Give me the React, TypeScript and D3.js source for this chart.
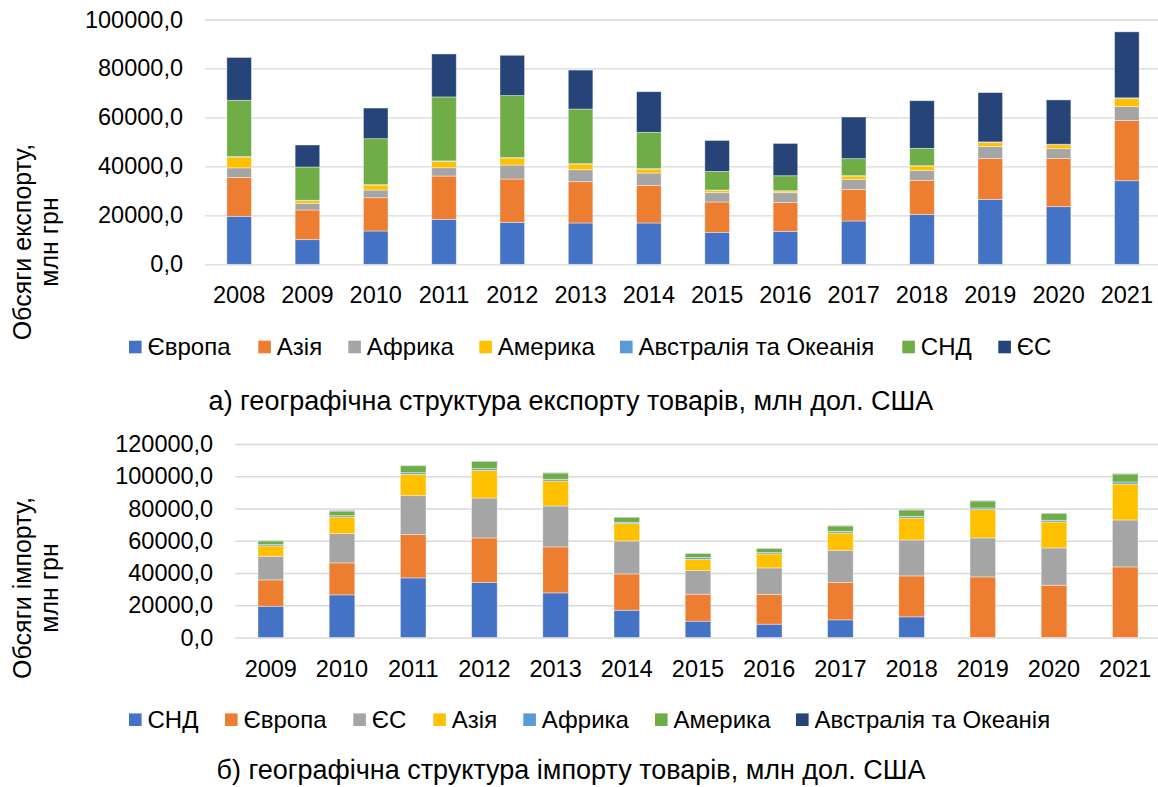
import React, { useEffect, useRef } from 'react';
import * as d3 from 'd3';

// ---- export chart data (2008-2021) ----
const exportYears = ['2008', '2009', '2010', '2011', '2012', '2013', '2014', '2015', '2016', '2017', '2018', '2019', '2020', '2021'];
const exportSeriesNames = ['Європа', 'Азія', 'Африка', 'Америка', 'Австралія та Океанія', 'СНД', 'ЄС'];
const exportEurope = [19600, 10070, 13610, 18370, 17140, 16870, 16870, 13060, 13470, 17690, 20410, 26530, 23540, 34150];
const exportAsia = [15900, 12110, 13600, 17690, 17690, 16880, 15380, 12390, 11840, 12930, 13880, 16740, 19730, 24630];
const exportAfrica = [3900, 2720, 3130, 3400, 5720, 4890, 5030, 3810, 3950, 4080, 4080, 4900, 3950, 5720];
const exportAmerica = [4400, 1090, 2040, 2590, 2860, 2320, 1640, 950, 680, 1360, 1770, 1630, 1630, 3260];
const exportAustralia = [200, 150, 150, 200, 200, 150, 150, 120, 120, 150, 150, 200, 200, 250];
const exportCIS = [23000, 13610, 18780, 26120, 25310, 22310, 14830, 7620, 6120, 6940, 7080, 0, 0, 0];
const exportEU = [17500, 8980, 12520, 17550, 16460, 15920, 16600, 12650, 13200, 17010, 19450, 20140, 18100, 26950];
const exportTicks = [0, 20000, 40000, 60000, 80000, 100000];

// ---- import chart data (2009-2021) ----
const importYears = ['2009', '2010', '2011', '2012', '2013', '2014', '2015', '2016', '2017', '2018', '2019', '2020', '2021'];
const importSeriesNames = ['СНД', 'Європа', 'ЄС', 'Азія', 'Африка', 'Америка', 'Австралія та Океанія'];
const importCIS = [19410, 26430, 36960, 34070, 27670, 16930, 10120, 8260, 10940, 12800, 0, 0, 0];
const importEurope = [16310, 19830, 26850, 27670, 28500, 22510, 16730, 18380, 23130, 25400, 37580, 32420, 43780];
const importEU = [14670, 18170, 24160, 24780, 25400, 20450, 14660, 16520, 20030, 22300, 24160, 23130, 29110];
const importAsia = [6400, 10320, 13220, 17140, 15490, 10730, 7020, 8670, 10740, 13630, 17560, 16110, 22310];
const importAfrica = [830, 830, 1030, 1040, 1030, 830, 1030, 830, 1030, 1040, 1030, 1030, 1230];
const importAmerica = [2280, 2680, 4330, 4540, 3920, 3100, 2480, 2480, 3310, 3920, 4340, 4330, 4960];
const importAustralia = [200, 400, 150, 150, 150, 150, 150, 150, 150, 150, 150, 100, 150];
const importTicks = [0, 20000, 40000, 60000, 80000, 100000, 120000];

const palette = ['#4472C4', '#ED7D31', '#A5A5A5', '#FFC000', '#5B9BD5', '#70AD47', '#264478'];
const FONT = '"Liberation Sans", Arial, sans-serif';

const fmt = (v: number) => d3.format('.1f')(v).replace('.', ',');

type ChartProps = {
  years: string[];
  names: string[];
  values: number[][];
  ticks: number[];
  x0: number; x1: number; y0: number; y1: number;
  legendX: number[]; legendY: number;
  caption: string; captionY: number;
  titleLines: string[]; titleY: number;
};

function StackedChart(p: ChartProps) {
  const yAxisRef = useRef<SVGGElement>(null);
  const xAxisRef = useRef<SVGGElement>(null);

  const x = d3.scaleBand().domain(p.years).range([p.x0, p.x1]).paddingInner(0.64).paddingOuter(0.32);
  const y = d3.scaleLinear().domain([0, p.ticks[p.ticks.length - 1]]).range([p.y0, p.y1]);

  const rows = p.years.map((yr, i) => {
    const row: any = { year: yr };
    p.names.forEach((n, k) => { row[n] = p.values[k][i]; });
    return row;
  });
  const stack = d3.stack().keys(p.names)(rows);

  useEffect(() => {
    const yAxis = d3.axisLeft(y).tickValues(p.ticks).tickSize(-(p.x1 - p.x0)).tickPadding(22).tickFormat((d: any) => fmt(d));
    const yg = d3.select(yAxisRef.current);
    yg.call(yAxis as any);
    yg.select('.domain').remove();
    yg.selectAll('line').attr('stroke', '#d9d9d9').attr('stroke-width', 1.3);
    yg.selectAll('text').attr('font-size', 23.5).attr('font-family', FONT).attr('fill', '#000');

    const xAxis = d3.axisBottom(x).tickSize(0).tickPadding(22.5);
    const xg = d3.select(xAxisRef.current);
    xg.call(xAxis as any);
    xg.select('.domain').remove();
    xg.selectAll('text').attr('font-size', 23.5).attr('font-family', FONT).attr('fill', '#000');
  });

  return (
    <g>
      <g ref={yAxisRef} transform={`translate(${p.x0},0)`} />
      {stack.map((s, k) => (
        <g key={p.names[k]} fill={palette[k]}>
          {s.map((d: any, i: number) => (
            <rect key={i} x={x(p.years[i])} width={x.bandwidth()} y={y(d[1])} height={Math.max(0, y(d[0]) - y(d[1]))}
              stroke="#ffffff" strokeOpacity={0.5} strokeWidth={0.8} />
          ))}
        </g>
      ))}
      <g ref={xAxisRef} transform={`translate(0,${p.y0})`} />
      <g fontFamily={FONT} fontSize={25} fill="#000">
        {p.titleLines.map((t, i) => (
          <text key={i} transform={`translate(${31 + i * 27},${p.titleY}) rotate(-90)`} textAnchor="middle">{t}</text>
        ))}
      </g>
      <g fontFamily={FONT} fontSize={24} fill="#000">
        {p.names.map((n, k) => (
          <g key={n} transform={`translate(${p.legendX[k]},${p.legendY})`}>
            <rect x={0} y={-6.3} width={12.6} height={12.6} fill={palette[k]} />
            <text x={18.5} y={0} dy="0.35em">{n}</text>
          </g>
        ))}
      </g>
      <text x={571} y={p.captionY} dy="0.35em" textAnchor="middle" fontFamily={FONT} fontSize={27} fill="#000">{p.caption}</text>
    </g>
  );
}

export default function App() {
  return (
    <svg width={1158} height={787} style={{ position: 'absolute', left: 0, top: 0, background: '#fff' }}>
      <StackedChart
        years={exportYears}
        names={exportSeriesNames}
        values={[exportEurope, exportAsia, exportAfrica, exportAmerica, exportAustralia, exportCIS, exportEU]}
        ticks={exportTicks}
        x0={205} x1={1161} y0={264.3} y1={19.5}
        legendX={[129, 258.3, 348.3, 479.3, 620, 902.3, 998.3]} legendY={347}
        caption="а) географічна структура експорту товарів, млн дол. США" captionY={401}
        titleLines={['Обсяги експорту,', 'млн грн']} titleY={242}
      />
      <StackedChart
        years={importYears}
        names={importSeriesNames}
        values={[importCIS, importEurope, importEU, importAsia, importAfrica, importAmerica, importAustralia]}
        ticks={importTicks}
        x0={235.2} x1={1160.8} y0={637.5} y1={444}
        legendX={[129, 225, 353.3, 433.3, 523.3, 655, 796]} legendY={719.7}
        caption="б) географічна структура імпорту товарів, млн дол. США" captionY={770}
        titleLines={['Обсяги імпорту,', 'млн грн']} titleY={588}
      />
    </svg>
  );
}
